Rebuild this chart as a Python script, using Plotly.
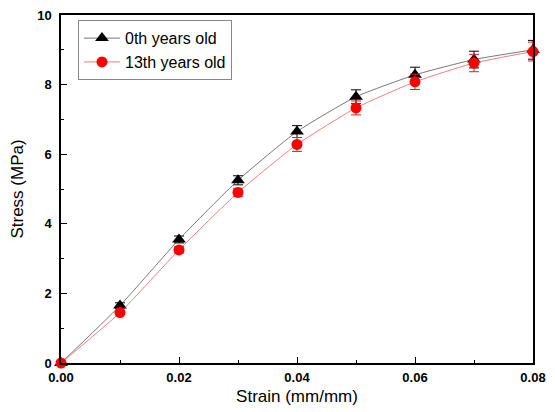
import plotly.graph_objects as go

strain = [0.00, 0.01, 0.02, 0.03, 0.04, 0.05, 0.06, 0.07, 0.08]
stress_0th = [0.0, 1.65, 3.55, 5.25, 6.65, 7.65, 8.28, 8.72, 9.0]
err_0th = [0.0, 0.08, 0.1, 0.13, 0.17, 0.2, 0.22, 0.24, 0.27]
stress_13th = [0.0, 1.45, 3.25, 4.9, 6.28, 7.33, 8.08, 8.62, 8.95]
err_13th = [0.0, 0.06, 0.09, 0.12, 0.2, 0.2, 0.22, 0.25, 0.27]

fig = go.Figure()
fig.add_trace(go.Scatter(
    x=strain, y=stress_0th, name="0th years old", mode="lines+markers",
    line=dict(color="#555555", width=0.8, shape="spline", smoothing=0.5),
    marker=dict(symbol="triangle-up", size=12, color="black"),
    error_y=dict(type="data", array=err_0th, color="black", thickness=1, width=5),
    cliponaxis=False,
))
fig.add_trace(go.Scatter(
    x=strain, y=stress_13th, name="13th years old", mode="lines+markers",
    line=dict(color="#e86060", width=0.8, shape="spline", smoothing=0.5),
    marker=dict(symbol="circle", size=11, color="red"),
    error_y=dict(type="data", array=err_13th, color="#d02020", thickness=1, width=5),
    cliponaxis=False,
))

tickfont = dict(family="Arial, Liberation Sans", size=13, color="black", weight="bold")
titlefont = dict(family="Arial, Liberation Sans", size=17, color="black")

axis_common = dict(
    showline=True, linecolor="black", linewidth=1.5, mirror=True,
    ticks="inside", ticklen=6, tickwidth=1.2, tickcolor="black",
    showgrid=False, zeroline=False, automargin=False,
    tickfont=tickfont, ticklabeloverflow="allow",
    minor=dict(ticks="inside", ticklen=3, tickwidth=1, tickcolor="black"),
)

fig.update_xaxes(
    range=[0, 0.08], dtick=0.02, tickformat=".2f",
    minor_dtick=0.01, ticklabelstandoff=2,
    title=dict(text="Strain (mm/mm)", font=titlefont, standoff=6),
    **axis_common,
)
fig.update_yaxes(
    range=[0, 10], dtick=2, minor_dtick=1, ticklabelstandoff=5,
    title=dict(text="Stress (MPa)", font=titlefont, standoff=10),
    **axis_common,
)

# the page body adds an 8px offset, so the figure is sized to fit the window
fig.update_layout(
    width=547, height=404,
    margin=dict(l=53, r=22, t=7, b=49),
    paper_bgcolor="white", plot_bgcolor="white",
    showlegend=True,
    legend=dict(
        x=0.036, y=0.985, xanchor="left", yanchor="top",
        bordercolor="#888888", borderwidth=1, bgcolor="white",
        font=dict(family="Arial, Liberation Sans", size=16, color="black"),
        tracegroupgap=0, itemwidth=36,
    ),
)

fig.write_html("out.html")
